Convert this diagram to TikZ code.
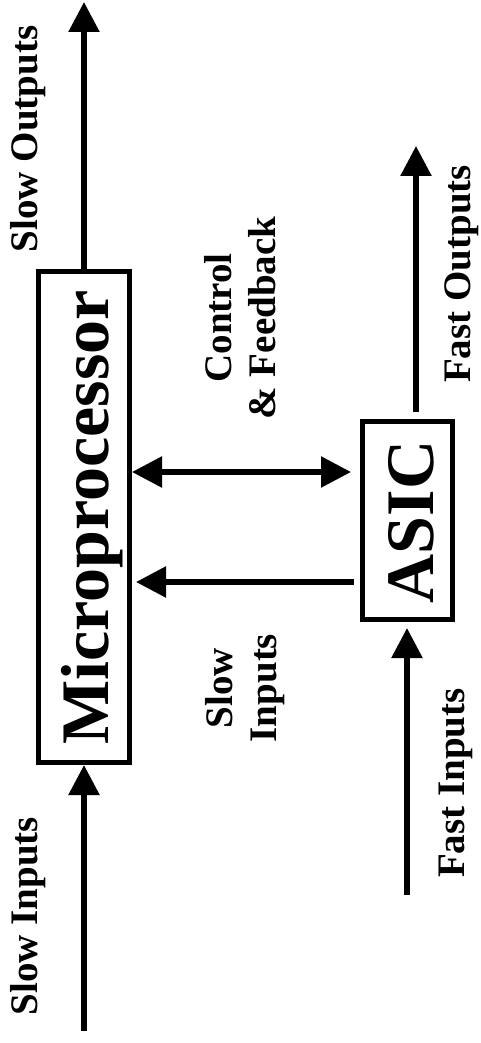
\documentclass[tikz,border=0pt]{standalone}
\usepackage{fontspec}
\setmainfont{Liberation Serif}
\usetikzlibrary{arrows.meta}
\begin{document}
\begin{tikzpicture}[x=1pt,y=-1pt,
  blockbox/.style={draw,line width=5pt,minimum width=#1,inner sep=0pt},
  arr/.style={line width=5.5pt,-{Triangle[length=30pt,width=30pt]}},
  darr/.style={line width=5.5pt,{Triangle[length=30pt,width=30pt]}-{Triangle[length=30pt,width=30pt]}},
  biglabel/.style={rotate=90,font=\fontsize{68}{70}\selectfont\bfseries,inner sep=0pt},
  lbl/.style={rotate=90,font=\fontsize{39}{44}\selectfont\bfseries,inner sep=0pt,align=center}]
\useasboundingbox (0,0) rectangle (481,1043);

% processing blocks
\node[blockbox=91pt,minimum height=491pt] (mp) at (84,517) {};
\node[blockbox=90pt,minimum height=198pt] (asic) at (407.5,520.5) {};
\node[biglabel,anchor=base] (mptext) at (108,517.5) {Microprocessor};
\node[biglabel,anchor=base] (asictext) at (433,522) {ASIC};

% free ends of the outer connectors
\coordinate (soend) at (84,2);
\coordinate (sistart) at (84,1031);
\coordinate (foend) at (416,146);
\coordinate (fistart) at (407,895);

% connectors
\draw[arr] (mp.north) -- (soend);
\draw[arr] (sistart) -- (mp.south);
\draw[darr,shorten >=9pt] (mp.east |- 0,472) -- (asic.west |- 0,472);
\draw[arr,shorten <=6pt,shorten >=4pt] (asic.west |- 0,582) -- (mp.east |- 0,582);
\draw[arr,shorten <=7pt] (asic.north -| foend) -- (foend);
\draw[arr,shorten >=6pt] (fistart) -- (asic.south -| fistart);

% signal labels
\node[lbl] (solabel) at (28,139) {Slow Outputs};
\node[lbl] (silabel) at (28,916) {Slow Inputs};
\node[lbl] (cflabel) at (240,318) {Control\\\& Feedback};
\node[lbl] (sislabel) at (245,688) {Slow\\Inputs};
\node[lbl] (folabel) at (462,274) {Fast Outputs};
\node[lbl] (filabel) at (456,783) {Fast Inputs};
\end{tikzpicture}
\end{document}
